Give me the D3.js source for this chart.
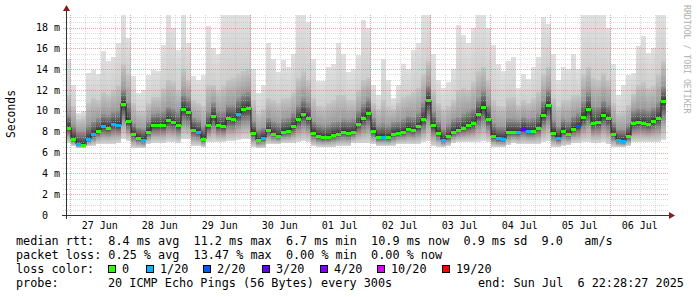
<!DOCTYPE html>
<html>
<head>
<meta charset="utf-8">
<script src="https://cdnjs.cloudflare.com/ajax/libs/d3/7.8.5/d3.min.js"></script>
<style>
  body { margin: 0; background: #fff; }
  svg text { font-family: "DejaVu Sans Mono", monospace; fill: #000; }
</style>
</head>
<body>
<div id="chart"></div>
<script>
// median rtt per 2 hour column (ms)
var medianRtt = [8.4, 7.3, 6.8, 6.7, 7.3, 7.8, 8.1, 8.5, 8.4, 8.7,
  8.6, 10.7, 9.0, 7.8, 7.4, 7.2, 8.0, 8.6, 8.6, 8.6,
  9.1, 8.9, 8.6, 10.2, 9.9, 8.2, 8.0, 7.3, 8.6, 9.5,
  8.6, 8.5, 9.3, 9.2, 9.7, 10.2, 10.3, 7.9, 7.2, 7.4,
  8.2, 7.8, 7.6, 8.0, 8.1, 8.5, 9.2, 9.7, 9.3, 7.9,
  7.6, 7.45, 7.5, 7.7, 7.8, 8.0, 7.9, 8.0, 8.7, 9.3,
  9.8, 8.1, 7.5, 7.5, 7.45, 7.8, 7.9, 8.0, 8.3, 8.15,
  8.5, 9.2, 11.0, 8.6, 7.9, 7.2, 7.55, 8.0, 8.2, 8.4,
  8.6, 8.8, 9.7, 10.4, 9.2, 7.6, 7.35, 7.3, 8.0, 8.0,
  8.0, 8.3, 8.1, 8.1, 8.4, 9.6, 10.6, 7.9, 7.4, 8.1,
  7.8, 8.3, 8.5, 9.4, 10.2, 8.8, 8.9, 9.6, 9.3, 7.8,
  7.2, 7.1, 7.6, 8.8, 8.9, 8.85, 8.75, 9.0, 9.3, 10.9];

// lowest ping (bottom of the smoke)
var smokeLow = [6.9, 6.6, 6.4, 6.4, 6.6, 6.6, 6.8, 6.8, 6.8, 6.8,
  6.9, 7.3, 7.1, 6.4, 6.4, 6.4, 6.8, 6.9, 6.9, 6.9,
  7.0, 7.0, 6.9, 7.3, 7.3, 6.6, 6.6, 6.5, 7.0, 7.0,
  7.0, 7.0, 7.1, 7.1, 7.2, 7.3, 7.3, 6.5, 6.4, 6.4,
  6.8, 6.8, 6.8, 6.9, 6.9, 6.9, 7.0, 7.1, 7.0, 6.6,
  6.5, 6.5, 6.5, 6.5, 6.6, 6.6, 6.6, 6.9, 6.9, 6.9,
  6.9, 6.8, 6.6, 6.6, 6.6, 6.6, 6.8, 6.8, 6.8, 6.8,
  6.8, 7.0, 7.1, 6.6, 6.5, 6.5, 6.6, 6.9, 7.0, 7.0,
  7.0, 7.0, 7.0, 7.1, 7.0, 6.5, 6.5, 6.5, 6.7, 6.9,
  6.8, 6.8, 6.8, 6.8, 6.8, 7.0, 7.1, 6.5, 6.5, 6.6,
  6.7, 6.9, 6.9, 7.0, 7.0, 6.9, 6.9, 7.0, 6.8, 6.5,
  6.5, 6.5, 6.6, 7.0, 7.0, 7.0, 7.0, 7.0, 7.0, 7.2];

// top of the dark core of the smoke
var smokeCore = [9.6, 8.6, 8.0, 8.0, 8.6, 9.0, 9.3, 9.7, 9.6, 9.9,
  10.0, 12.0, 10.8, 8.8, 8.4, 8.3, 9.1, 9.7, 9.8, 9.9,
  10.4, 10.2, 9.9, 11.6, 11.2, 9.3, 9.1, 8.5, 9.9, 10.8,
  9.9, 9.9, 10.6, 10.6, 11.2, 11.6, 11.8, 9.0, 8.2, 8.4,
  9.3, 9.0, 8.8, 9.2, 9.3, 9.8, 10.6, 11.2, 10.8, 9.0,
  8.7, 8.6, 8.7, 8.9, 9.0, 9.2, 9.1, 9.2, 10.0, 10.7,
  11.2, 9.3, 8.6, 8.8, 8.6, 8.9, 9.0, 9.2, 9.5, 9.4,
  9.8, 10.8, 12.5, 9.9, 9.0, 8.3, 8.7, 9.2, 9.4, 9.7,
  9.9, 10.2, 11.2, 11.9, 10.6, 8.8, 8.5, 8.5, 9.2, 9.2,
  9.1, 9.4, 9.2, 9.3, 9.7, 11.0, 12.0, 9.1, 8.5, 9.2,
  9.0, 9.5, 9.8, 10.9, 11.8, 10.4, 10.4, 11.0, 10.6, 8.9,
  8.2, 8.2, 8.7, 10.0, 10.2, 10.2, 10.0, 10.3, 10.8, 12.3];

// top of the medium grey part of the smoke
var smokeMid = [11.5, 10.5, 9.2, 9.3, 10.8, 11.2, 11.0, 11.8, 11.5, 12.0,
  12.5, 14.5, 13.5, 10.8, 10.0, 10.0, 10.8, 11.3, 11.3, 12.2,
  13.0, 12.8, 12.0, 14.0, 13.0, 11.0, 10.8, 10.5, 12.5, 12.5,
  12.0, 12.5, 13.0, 13.2, 13.5, 13.8, 14.0, 11.0, 9.8, 10.2,
  11.2, 11.0, 10.8, 11.2, 11.2, 11.8, 13.2, 13.8, 13.0, 11.2,
  10.5, 10.4, 10.8, 11.0, 11.5, 11.5, 11.0, 11.0, 12.0, 13.0,
  13.2, 10.8, 10.2, 11.0, 10.4, 10.2, 10.8, 11.3, 11.5, 11.8,
  12.2, 13.5, 14.8, 12.0, 10.8, 10.2, 10.5, 11.0, 12.0, 12.2,
  12.0, 12.8, 13.8, 14.2, 13.0, 11.0, 10.5, 10.4, 11.2, 11.3,
  10.6, 11.0, 10.8, 11.2, 11.8, 13.5, 14.2, 11.2, 10.4, 11.0,
  11.0, 11.5, 11.5, 13.5, 14.2, 13.2, 13.0, 13.6, 13.0, 10.8,
  9.8, 10.0, 10.6, 11.6, 12.5, 12.8, 12.2, 12.4, 13.5, 14.8];

// highest ping (top of the light smoke)
var smokeHigh = [15.0, 12.5, 9.8, 10.0, 13.6, 13.9, 13.5, 15.7, 14.8, 15.2,
  16.5, 19.2, 17.0, 13.3, 11.7, 12.0, 13.4, 13.9, 13.8, 16.3,
  19.2, 18.0, 15.8, 19.2, 16.5, 13.3, 13.0, 13.4, 18.1, 16.0,
  15.5, 19.2, 19.2, 19.2, 19.2, 19.2, 19.2, 14.0, 11.7, 12.5,
  16.5, 15.0, 13.7, 14.9, 14.2, 15.5, 19.2, 19.2, 18.5, 15.0,
  12.9, 12.9, 14.2, 14.5, 16.5, 15.5, 13.7, 14.0, 15.4, 18.7,
  18.0, 12.5, 11.5, 15.0, 13.0, 11.2, 12.5, 14.5, 14.0, 15.8,
  16.5, 19.2, 19.2, 15.5, 13.0, 12.2, 12.8, 14.0, 18.2, 17.3,
  16.5, 18.0, 19.2, 19.2, 18.0, 16.3, 14.5, 13.8, 14.8, 15.2,
  12.2, 13.5, 13.1, 14.2, 15.2, 19.0, 18.3, 15.5, 13.0, 14.2,
  14.0, 15.5, 14.0, 19.2, 19.2, 19.2, 19.2, 19.2, 18.0, 14.5,
  11.5, 12.5, 13.4, 13.6, 16.2, 17.2, 15.6, 16.0, 19.2, 19.2];

// lost pings out of 20 per column
var lossCount = [0, 0, 1, 0, 1, 1, 0, 1, 0, 1,
  1, 0, 0, 0, 0, 1, 0, 0, 0, 0,
  0, 0, 0, 0, 0, 0, 1, 0, 0, 0,
  0, 0, 0, 0, 1, 0, 0, 0, 0, 1,
  0, 0, 0, 0, 0, 0, 0, 0, 0, 0,
  0, 0, 0, 0, 0, 0, 0, 0, 0, 0,
  0, 0, 0, 1, 0, 0, 0, 0, 0, 0,
  0, 0, 0, 0, 0, 1, 0, 0, 0, 0,
  0, 0, 0, 0, 0, 0, 1, 1, 0, 0,
  1, 3, 1, 0, 0, 0, 0, 0, 1, 0,
  0, 0, 2, 0, 0, 0, 0, 0, 0, 0,
  1, 1, 0, 0, 0, 0, 0, 0, 0, 0];

var lossSteps = [0, 1, 2, 3, 4, 10, 19];
var lossLabels = ["0", "1/20", "2/20", "3/20", "4/20", "10/20", "19/20"];
var lossColors = ["#26ff00", "#00b8ff", "#0059ff", "#5e00ff", "#7e00ff", "#dd00ff", "#ff0000"];

var yTicks = [0, 2, 4, 6, 8, 10, 12, 14, 16, 18];
var yTickLabels = ["0  ", "2 m", "4 m", "6 m", "8 m", "10 m", "12 m", "14 m", "16 m", "18 m"];

var statsLines = [
  "median rtt:  8.4 ms avg  11.2 ms max  6.7 ms min  10.9 ms now  0.9 ms sd  9.0   am/s",
  "packet loss: 0.25 % avg  13.47 % max  0.00 % min  0.00 % now"
];

function drawChart() {
  var svgWidth = 697, svgHeight = 297;
  var plot = { left: 66, right: 666, top: 15, bottom: 215 };

  var svg = d3.select("#chart").append("svg")
    .attr("width", svgWidth)
    .attr("height", svgHeight);

  svg.append("rect").attr("width", svgWidth).attr("height", svgHeight).attr("fill", "#fff");

  var endTime = new Date(Date.UTC(2025, 6, 6, 22, 28, 27));
  var startTime = new Date(endTime.getTime() - 10 * 864e5);
  var stepMs = 2 * 3600e3;

  var x = d3.scaleUtc().domain([startTime, endTime]).range([plot.left, plot.right]);
  var y = d3.scaleLinear().domain([0, 19.2]).range([plot.bottom, plot.top]);
  var lossColor = d3.scaleThreshold().domain(lossSteps.slice(1)).range(lossColors);

  var cols = medianRtt.map(function (m, i) {
    return {
      t0: new Date(startTime.getTime() + i * stepMs),
      t1: new Date(startTime.getTime() + (i + 1) * stepMs),
      lo: smokeLow[i], med: m, core: smokeCore[i], mid: smokeMid[i], hi: smokeHigh[i],
      loss: lossCount[i]
    };
  });

  // gradients for the smoke bands
  var defs = svg.append("defs");
  function grad(id, stops) {
    var g = defs.append("linearGradient").attr("id", id)
      .attr("x1", 0).attr("y1", 0).attr("x2", 0).attr("y2", 1);
    stops.forEach(function (s) {
      g.append("stop").attr("offset", s[0]).attr("stop-color", s[1]);
    });
  }
  grad("gLow", [[0, "#363636"], [0.3, "#7a7a7a"], [0.65, "#b0b0b0"], [1, "#dadada"]]);
  grad("gCore", [[0, "#939393"], [0.6, "#5e5e5e"], [1, "#333333"]]);
  grad("gMid", [[0, "#c6c6c6"], [1, "#9a9a9a"]]);
  grad("gTop", [[0, "#e0e0e0"], [1, "#cfcfcf"]]);

  var bands = [
    { from: "lo", to: "med", fill: "url(#gLow)" },
    { from: "med", to: "core", fill: "url(#gCore)" },
    { from: "core", to: "mid", fill: "url(#gMid)" },
    { from: "mid", to: "hi", fill: "url(#gTop)" }
  ];

  var smoke = svg.append("g").attr("shape-rendering", "crispEdges");
  bands.forEach(function (b) {
    smoke.append("g").selectAll("rect")
      .data(cols)
      .enter()
      .append("rect")
      .attr("x", function (d) { return x(d.t0); })
      .attr("width", function (d) { return x(d.t1) - x(d.t0); })
      .attr("y", function (d) { return y(d[b.to]); })
      .attr("height", function (d) { return Math.max(0, y(d[b.from]) - y(d[b.to])); })
      .attr("fill", b.fill);
  });

  // grid
  var grid = svg.append("g").attr("shape-rendering", "crispEdges");
  var minorY = d3.range(0.5, 19.2, 0.5).filter(function (v) { return v % 2 !== 0; });
  var majorY = yTicks.filter(function (v) { return v > 0; });
  grid.selectAll(".hmin").data(minorY).enter().append("line")
    .attr("x1", plot.left - 3).attr("x2", plot.right + 3)
    .attr("y1", function (d) { return Math.round(y(d)) + 0.5; })
    .attr("y2", function (d) { return Math.round(y(d)) + 0.5; })
    .attr("stroke", "#bababa").attr("stroke-opacity", 0.55).attr("stroke-dasharray", "1,1");

  var days = d3.utcDay.range(startTime, endTime);
  var sixHours = d3.utcHour.every(6).range(startTime, endTime)
    .filter(function (t) { return t.getUTCHours() !== 0; });
  grid.selectAll(".vmin").data(sixHours).enter().append("line")
    .attr("x1", function (d) { return Math.round(x(d)) + 0.5; })
    .attr("x2", function (d) { return Math.round(x(d)) + 0.5; })
    .attr("y1", plot.top).attr("y2", plot.bottom + 3)
    .attr("stroke", "#bababa").attr("stroke-opacity", 0.55).attr("stroke-dasharray", "1,1");

  grid.selectAll(".hmaj").data(majorY).enter().append("line")
    .attr("x1", plot.left - 3).attr("x2", plot.right + 3)
    .attr("y1", function (d) { return Math.round(y(d)) + 0.5; })
    .attr("y2", function (d) { return Math.round(y(d)) + 0.5; })
    .attr("stroke", "#e05050").attr("stroke-opacity", 0.5).attr("stroke-dasharray", "1,1");
  grid.selectAll(".vmaj").data(days).enter().append("line")
    .attr("x1", function (d) { return Math.round(x(d)) + 0.5; })
    .attr("x2", function (d) { return Math.round(x(d)) + 0.5; })
    .attr("y1", plot.top).attr("y2", plot.bottom + 3)
    .attr("stroke", "#e05050").attr("stroke-opacity", 0.5).attr("stroke-dasharray", "1,1");

  // median line: dark step line, then loss coloured segments
  var stepLine = d3.line()
    .x(function (d) { return x(d.t); })
    .y(function (d) { return y(d.v); })
    .curve(d3.curveStepAfter);
  var pts = cols.map(function (d) { return { t: d.t0, v: d.med }; });
  pts.push({ t: endTime, v: cols[cols.length - 1].med });
  svg.append("path")
    .attr("d", stepLine(pts))
    .attr("fill", "none")
    .attr("stroke", "#202020")
    .attr("stroke-width", 1);

  svg.append("g").attr("shape-rendering", "crispEdges").selectAll("rect")
    .data(cols)
    .enter()
    .append("rect")
    .attr("x", function (d) { return x(d.t0); })
    .attr("width", function (d) { return x(d.t1) - x(d.t0); })
    .attr("y", function (d) { return Math.round(y(d.med)) - 1; })
    .attr("height", 3)
    .attr("fill", function (d) { return lossColor(d.loss); });

  // axes
  var axisCol = "#333", arrowCol = "#8b1a1a";
  svg.append("line").attr("x1", plot.left - 4).attr("x2", plot.right + 4)
    .attr("y1", plot.bottom + 0.5).attr("y2", plot.bottom + 0.5)
    .attr("stroke", axisCol).attr("shape-rendering", "crispEdges");
  svg.append("line").attr("x1", plot.left + 0.5).attr("x2", plot.left + 0.5)
    .attr("y1", plot.bottom + 4).attr("y2", plot.top - 5)
    .attr("stroke", axisCol).attr("shape-rendering", "crispEdges");
  svg.append("path")
    .attr("d", "M" + (plot.right + 3) + "," + (plot.bottom - 3) + "L" + (plot.right + 9) + "," + (plot.bottom + 0.5) + "L" + (plot.right + 3) + "," + (plot.bottom + 4) + "Z")
    .attr("fill", arrowCol);
  svg.append("path")
    .attr("d", "M" + (plot.left - 3) + "," + (plot.top - 4) + "L" + (plot.left + 0.5) + "," + (plot.top - 10) + "L" + (plot.left + 4) + "," + (plot.top - 4) + "Z")
    .attr("fill", arrowCol);

  // y tick labels
  svg.append("g").selectAll("text")
    .data(yTicks)
    .enter()
    .append("text")
    .attr("x", 60)
    .attr("y", function (d) { return y(d); })
    .attr("dy", "0.36em")
    .attr("text-anchor", "end")
    .attr("xml:space", "preserve")
    .style("white-space", "pre")
    .style("font-size", "10px")
    .text(function (d, i) { return yTickLabels[i]; });

  // x day labels at noon
  var fmt = d3.utcFormat("%d %b");
  svg.append("g").selectAll("text")
    .data(days)
    .enter()
    .append("text")
    .attr("x", function (d) { return x(d3.utcHour.offset(d, 12)); })
    .attr("y", 228.5)
    .attr("text-anchor", "middle")
    .style("font-size", "10px")
    .text(function (d) { return fmt(d); });

  // y axis title
  svg.append("text")
    .attr("transform", "translate(15,114) rotate(-90)")
    .attr("text-anchor", "middle")
    .style("font-size", "11.4px")
    .text("Seconds");

  // rrdtool watermark
  svg.append("text")
    .attr("transform", "translate(684,5) rotate(90)")
    .style("font-size", "8.2px")
    .style("fill", "#b0b0b0")
    .text("RRDTOOL / TOBI OETIKER");

  // legend
  var legend = svg.append("g").style("font-size", "11.8px");
  legend.selectAll(".stat").data(statsLines).enter().append("text")
    .attr("x", 16)
    .attr("y", function (d, i) { return 245 + i * 14; })
    .attr("xml:space", "preserve")
    .style("white-space", "pre")
    .text(function (d) { return d; });

  legend.append("text").attr("x", 16).attr("y", 273).text("loss color:");
  var swatchX = [108, 146, 203, 262, 320, 377, 442];
  var lossItems = legend.selectAll(".loss").data(lossLabels).enter().append("g");
  lossItems.append("rect")
    .attr("x", function (d, i) { return swatchX[i] + 0.5; })
    .attr("y", 265.5)
    .attr("width", 7).attr("height", 7)
    .attr("fill", function (d, i) { return lossColors[i]; })
    .attr("stroke", "#000")
    .attr("shape-rendering", "crispEdges");
  lossItems.append("text")
    .attr("x", function (d, i) { return swatchX[i] + 14; })
    .attr("y", 273)
    .text(function (d) { return d; });

  legend.append("text").attr("x", 16).attr("y", 287).text("probe:");
  legend.append("text").attr("x", 108).attr("y", 287).text("20 ICMP Echo Pings (56 Bytes) every 300s");
  legend.append("text").attr("x", 478).attr("y", 287)
    .attr("xml:space", "preserve").style("white-space", "pre")
    .text("end: Sun Jul  6 22:28:27 2025");
}

drawChart();
</script>
</body>
</html>
